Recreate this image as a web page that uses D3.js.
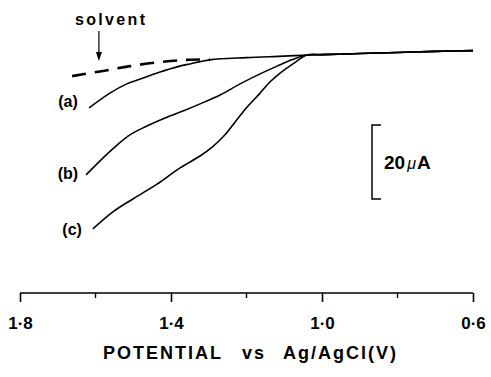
<!DOCTYPE html>
<html>
<head>
<meta charset="utf-8">
<script src="https://cdn.jsdelivr.net/npm/d3@7"></script>
<style>
  html, body { margin: 0; padding: 0; background: #fff; }
  svg { display: block; }
  text { font-family: "Liberation Sans", Arial, sans-serif; fill: #000; }
</style>
</head>
<body>
<svg id="chart" width="491" height="377"></svg>
<script>
// ---------- data ----------
const xTickValues = [1.8, 1.4, 1.0, 0.6];
const xTickLabels = ["1·8", "1·4", "1·0", "0·6"];
const xMinorTicks = [1.6, 1.2, 0.8];
const xTitleWords = ["POTENTIAL", "vs", "Ag/AgCl(V)"];

// shared tail (common to all curves, V <= ~1.04)
const tailV = [1.04, 1.0, 0.9, 0.8, 0.7, 0.6];
const tailI = [1.9, 1.8, 1.5, 1.2, 0.9, 0.7];

// current in µA (downward positive), potential in V
const curveA_V = [1.617, 1.562, 1.517, 1.474, 1.429, 1.384, 1.350, 1.297, 1.2, 1.1];
const curveA_I = [16.2, 12.2, 9.7, 8.1, 6.5, 5.1, 4.3, 3.2, 2.6, 2.2];

const curveB_V = [1.625, 1.588, 1.549, 1.509, 1.464, 1.416, 1.363, 1.323, 1.270, 1.217, 1.164, 1.119, 1.080];
const curveB_I = [34.3, 30.5, 26.8, 23.5, 21.1, 18.9, 16.8, 15.1, 12.7, 9.7, 7.0, 4.9, 3.2];

const curveC_V = [1.607, 1.554, 1.501, 1.437, 1.376, 1.323, 1.291, 1.260, 1.228, 1.196, 1.164, 1.138, 1.111, 1.077];
const curveC_I = [48.9, 44.3, 40.8, 36.8, 32.4, 29.2, 26.8, 23.8, 19.7, 15.7, 12.2, 9.2, 6.8, 4.3];

const solventV = [1.662, 1.580, 1.509, 1.429, 1.358, 1.297];
const solventI = [7.6, 6.2, 4.9, 3.8, 3.2, 3.1];

const curveLabels = ["(a)", "(b)", "(c)"];
const curveLabelV = [1.673, 1.673, 1.662];
const curveLabelI = [14.4, 33.9, 49.0];
const scaleBarValue = 20;      // µA
const scaleBarStart = 20.8;    // µA level of bracket top
const scaleBarV = 0.8675;      // potential where bracket sits
const scaleBarText = "20";
const scaleBarUnit = "μA";
const solventLabel = "solvent";
const solventArrowV = 1.591;

// ---------- layout ----------
const svg = d3.select("#chart");
const x = d3.scaleLinear().domain([1.8, 0.6]).range([20, 473]);
const y = d3.scaleLinear().domain([0, 20]).range([48, 122]);
const axisY = 293;

const line = d3.line()
  .x(d => x(d[0])).y(d => y(d[1]))
  .curve(d3.curveCatmullRom.alpha(0.5));

function pts(vs, is) { return vs.map((v, i) => [v, is[i]]); }
const tail = pts(tailV, tailI);
const curves = [
  pts(curveA_V, curveA_I).concat(tail),
  pts(curveB_V, curveB_I).concat(tail),
  pts(curveC_V, curveC_I).concat(tail)
];

const g = svg.append("g");

// solvent dashed
g.append("path")
  .attr("d", line(pts(solventV, solventI)))
  .attr("fill", "none").attr("stroke", "#000")
  .attr("stroke-width", 2.6)
  .attr("stroke-dasharray", "14,9");

curves.forEach(c => {
  g.append("path")
    .attr("d", line(c))
    .attr("fill", "none").attr("stroke", "#000")
    .attr("stroke-width", 1.6)
    .attr("stroke-linejoin", "round");
});

// curve labels
curveLabels.forEach((t, i) => {
  g.append("text")
    .attr("x", x(curveLabelV[i])).attr("y", y(curveLabelI[i]))
    .attr("text-anchor", "middle")
    .attr("dominant-baseline", "central")
    .attr("font-size", 16)
    .attr("font-weight", "bold")
    .text(t);
});

// solvent label + arrow
g.append("text")
  .attr("x", 75).attr("y", 25)
  .attr("font-size", 16).attr("font-weight", "bold")
  .attr("textLength", 70).attr("lengthAdjust", "spacing")
  .text(solventLabel);
const ax = x(solventArrowV);
g.append("line")
  .attr("x1", ax).attr("x2", ax).attr("y1", 31).attr("y2", 55)
  .attr("stroke", "#000").attr("stroke-width", 1.2);
g.append("path")
  .attr("d", `M${ax - 3},${52} L${ax},${61} L${ax + 3},${52} Z`)
  .attr("fill", "#000");

// scale bar bracket
const bx = x(scaleBarV);
const by1 = y(scaleBarStart), by2 = y(scaleBarStart + scaleBarValue);
g.append("path")
  .attr("d", `M${bx + 9},${by1} H${bx} V${by2} H${bx + 9}`)
  .attr("fill", "none").attr("stroke", "#000").attr("stroke-width", 1.5);
const st = g.append("text")
  .attr("x", bx + 12).attr("y", (by1 + by2) / 2 + 7)
  .attr("font-size", 19).attr("font-weight", "bold");
st.append("tspan").text(scaleBarText);
st.append("tspan").attr("font-size", 16).attr("font-weight", "normal")
  .attr("font-style", "italic").attr("dx", 2).text(scaleBarUnit.slice(0, 1));
st.append("tspan").attr("dx", 1).text(scaleBarUnit.slice(1));

// x axis
const axis = d3.axisBottom(x)
  .tickValues(xTickValues)
  .tickSize(9)
  .tickPadding(15)
  .tickFormat((d, i) => xTickLabels[i]);
const axG = svg.append("g").attr("transform", `translate(0,${axisY})`).call(axis);
axG.select(".domain").attr("stroke", "#000").attr("stroke-width", 1.6)
  .attr("d", `M${x(1.8)},0H${x(0.6)}`);
axG.selectAll(".tick line").attr("stroke", "#000").attr("stroke-width", 1.6);
axG.selectAll(".tick text")
  .attr("font-size", 17).attr("font-weight", "bold")
  .attr("font-family", "Liberation Sans, Arial, sans-serif")
  .attr("fill", "#000");

axG.selectAll(".minor").data(xMinorTicks).enter().append("line")
  .attr("x1", d => x(d)).attr("x2", d => x(d))
  .attr("y1", 0).attr("y2", 5)
  .attr("stroke", "#000").attr("stroke-width", 1.4);

// title as one text with positioned words
const title = svg.append("text")
  .attr("y", 359)
  .attr("font-size", 18).attr("font-weight", "bold")
  .attr("letter-spacing", 2);
const wordX = [103, 242, 283];
xTitleWords.forEach((w, i) => {
  title.append("tspan").attr("x", wordX[i]).text(w);
});
</script>
</body>
</html>
